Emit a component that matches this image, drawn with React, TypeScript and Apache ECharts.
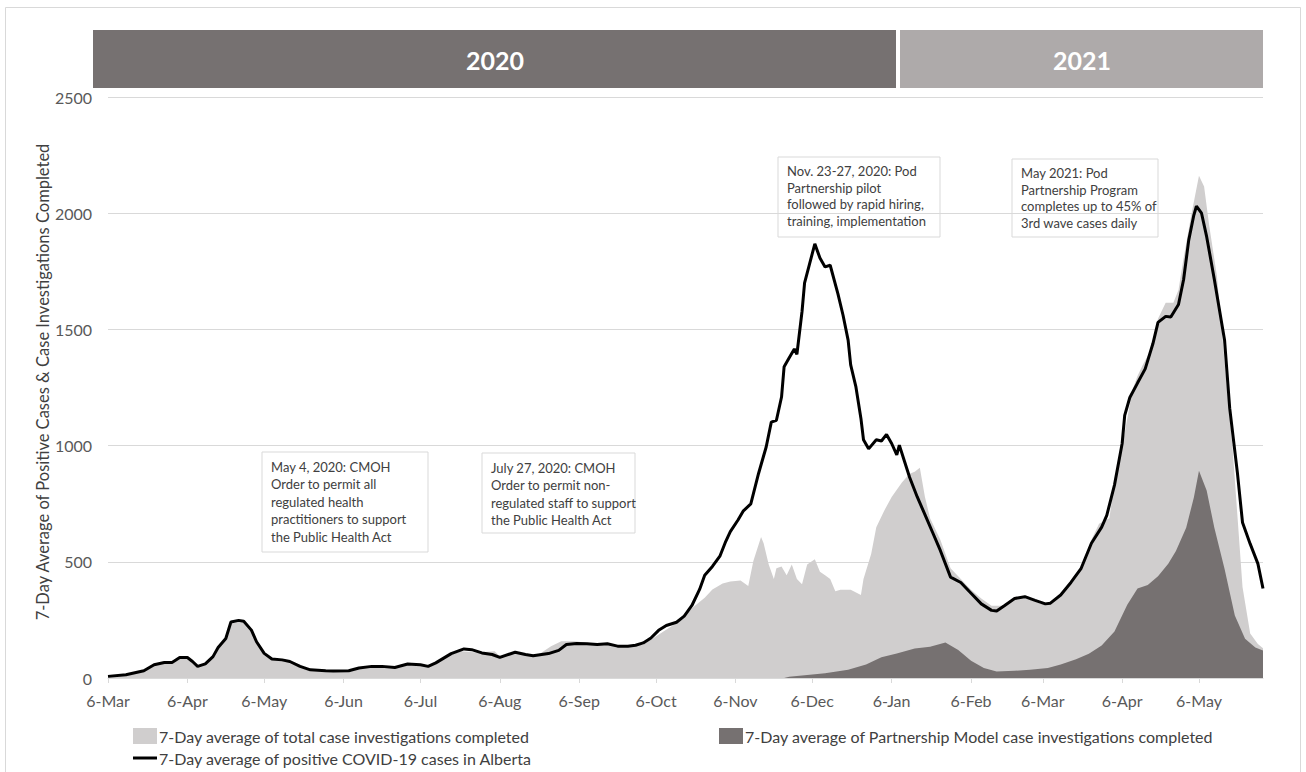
import React, { useEffect, useRef } from 'react';
import * as echarts from 'echarts';

// x values are day offsets counted from 6 March 2020
const tickDays = [0, 31, 61, 92, 122, 153, 184, 214, 245, 275, 306, 337, 365, 396, 426];
const tickLabels = ['6-Mar', '6-Apr', '6-May', '6-Jun', '6-Jul', '6-Aug', '6-Sep', '6-Oct', '6-Nov', '6-Dec', '6-Jan', '6-Feb', '6-Mar', '6-Apr', '6-May'];
const yearLabels = ['2020', '2021'];
const seriesNames = [
  '7-Day average of total case investigations completed',
  '7-Day average of Partnership Model case investigations completed',
  '7-Day average of positive COVID-19 cases in Alberta',
];
const yAxisTitle = '7-Day Average of Positive Cases & Case Investigations Completed';

const totalInvestigations: [number, number][] = [
  [0, 7], [7, 14], [14, 31], [18, 57], [22, 67], [25, 67], [28, 88], [31, 88], [33, 71], [35, 50], [38, 61], [41, 92], [43, 131],
  [46, 170], [48, 241], [51, 248], [53, 244], [56, 206], [58, 156], [61, 106], [64, 82], [68, 78], [71, 71], [75, 50], [79, 35],
  [85, 31], [88, 30], [94, 31], [98, 43], [103, 50], [107, 50], [112, 45], [117, 60], [122, 57], [126, 55], [131, 90], [138, 115],
  [144, 110], [151, 115], [153, 93], [161, 105], [168, 100], [173, 137], [177, 158], [182, 158], [188, 151], [196, 144], [203, 137],
  [209, 144], [216, 194], [222, 237], [228, 300], [233, 345], [236, 381], [240, 407], [243, 415], [247, 419], [250, 396], [252, 503],
  [255, 607], [256, 580], [258, 488], [260, 426], [261, 472], [263, 480], [265, 442], [267, 488], [269, 426], [271, 403], [273, 488],
  [276, 511], [278, 457], [280, 442], [282, 426], [284, 373], [286, 380], [290, 380], [294, 357], [295, 426], [298, 534], [300, 649],
  [303, 718], [306, 779], [310, 841], [313, 879], [315, 887], [317, 905], [319, 779], [321, 687], [325, 595], [329, 472], [333, 426],
  [337, 380], [341, 342], [345, 311], [349, 311], [354, 342], [359, 342], [364, 319], [370, 334], [375, 396], [380, 472], [384, 595],
  [387, 664], [391, 687], [393, 841], [397, 1055], [400, 1239], [402, 1300], [404, 1346], [407, 1407], [410, 1546], [413, 1615],
  [416, 1615], [418, 1669], [420, 1807], [423, 1992], [426, 2161], [428, 2115], [430, 1946], [433, 1730], [436, 1361], [439, 1007],
  [441, 700], [443, 392], [446, 192], [449, 146], [451, 128],
];

const partnershipInvestigations: [number, number][] = [
  [264, 0], [266, 5], [280, 20], [289, 35], [296, 58], [302, 89], [308, 105], [315, 127], [321, 135], [327, 153], [332, 120],
  [337, 74], [342, 43], [347, 28], [354, 31], [360, 35], [367, 43], [372, 58], [378, 81], [383, 104], [388, 140], [393, 200],
  [398, 315], [402, 385], [406, 400], [410, 438], [414, 492], [417, 546], [421, 646], [424, 777], [426, 892], [429, 807],
  [432, 646], [436, 469], [440, 269], [444, 169], [448, 131], [451, 118],
];

const positiveCases: [number, number][] = [
  [0, 7], [7, 14], [14, 31], [18, 57], [22, 67], [25, 67], [28, 88], [31, 88], [33, 71], [35, 50], [38, 61], [41, 92], [43, 131],
  [46, 170], [48, 241], [51, 248], [53, 244], [56, 206], [58, 156], [61, 106], [64, 82], [68, 78], [71, 71], [75, 50], [79, 35],
  [85, 31], [88, 30], [94, 31], [98, 43], [103, 50], [107, 50], [112, 45], [117, 60], [122, 57], [125, 50], [128, 65], [134, 105],
  [139, 125], [142, 122], [146, 108], [150, 101], [153, 89], [159, 111], [163, 101], [166, 96], [172, 105], [176, 119], [179, 144],
  [183, 148], [187, 147], [191, 144], [195, 147], [199, 137], [203, 137], [206, 141], [209, 151], [212, 172], [215, 205], [218, 226],
  [222, 240], [225, 266], [228, 312], [231, 381], [233, 442], [236, 480], [239, 526], [241, 582], [243, 630], [246, 680], [248, 718],
  [251, 749], [254, 879], [257, 994], [259, 1101], [261, 1109], [263, 1209], [264, 1339], [266, 1378], [268, 1416], [269, 1393],
  [271, 1577], [272, 1700], [274, 1784], [276, 1868], [278, 1807], [280, 1769], [282, 1776], [285, 1654], [287, 1562], [289, 1454],
  [290, 1347], [292, 1255], [294, 1117], [295, 1025], [297, 986], [300, 1025], [302, 1020], [304, 1048], [306, 1009], [308, 960],
  [309, 1002], [311, 933], [313, 864], [316, 779], [319, 703], [322, 626], [325, 549], [329, 434], [333, 411], [337, 365], [341, 319],
  [345, 291], [347, 288], [350, 311], [354, 342], [358, 350], [362, 334], [366, 319], [368, 322], [372, 357], [376, 411], [380, 472],
  [384, 580], [388, 649], [390, 700], [393, 830], [396, 1009], [397, 1130], [399, 1207], [402, 1269], [405, 1330], [408, 1438],
  [410, 1530], [413, 1556], [415, 1553], [418, 1607], [420, 1715], [422, 1884], [424, 1992], [425, 2030], [427, 2000], [429, 1899],
  [432, 1715], [436, 1453], [438, 1161], [441, 884], [443, 669], [446, 577], [449, 492], [451, 385],
];

const noteMay2020 = ['May 4, 2020: CMOH', 'Order to permit all', 'regulated health', 'practitioners to support', 'the Public Health Act'];
const noteJuly2020 = ['July 27, 2020: CMOH', 'Order to permit non-', 'regulated staff to support', 'the Public Health Act'];
const noteNov2020 = ['Nov. 23-27, 2020: Pod', 'Partnership pilot', 'followed by rapid hiring,', 'training, implementation'];
const noteMay2021 = ['May 2021: Pod', 'Partnership Program', 'completes up to 45% of', '3rd wave cases daily'];

const FONT = 'Lato, "Open Sans", sans-serif';

function noteBox(lines: string[], x: number, y: number, w: number, h: number, fs: number, lh: number) {
  return {
    type: 'group',
    z: 100,
    children: [
      { type: 'rect', shape: { x, y, width: w, height: h }, style: { fill: '#ffffff', stroke: '#d9d9d9', lineWidth: 1 } },
      {
        type: 'text',
        x: x + 9,
        y: y + 6,
        style: { text: lines.join('\n'), fill: '#404040', font: `${fs}px ${FONT}`, lineHeight: lh, verticalAlign: 'top', align: 'left' },
      },
    ],
  };
}

const legendText = { color: '#404040', fontSize: 16, fontFamily: FONT, padding: [0, 0, 0, -3] };

export default function App() {
  const ref = useRef<HTMLDivElement>(null);
  useEffect(() => {
    const chart = echarts.init(ref.current!, null, { renderer: 'svg' });
    const option: any = {
      animation: false,
      backgroundColor: '#ffffff',
      grid: { left: 108, right: 43, top: 97, bottom: 94 },
      xAxis: {
        type: 'value',
        min: 0,
        max: 451,
        splitLine: { show: false },
        axisLine: { show: true, lineStyle: { color: '#d9d9d9', width: 1 } },
        axisTick: { show: true, customValues: tickDays, length: 5, lineStyle: { color: '#d9d9d9' } },
        axisLabel: {
          customValues: tickDays,
          formatter: (v: number) => {
            const i = tickDays.indexOf(Math.round(v));
            return i >= 0 ? tickLabels[i] : '';
          },
          color: '#595959',
          fontSize: 16,
          fontFamily: FONT,
          margin: 14,
        },
      },
      yAxis: {
        type: 'value',
        min: 0,
        max: 2500,
        interval: 500,
        axisLine: { show: false },
        axisTick: { show: false },
        axisLabel: { color: '#595959', fontSize: 16, fontFamily: FONT, margin: 16, formatter: (v: number) => String(v) },
        splitLine: { lineStyle: { color: '#d9d9d9', width: 1 } },
      },
      legend: [
        { data: [seriesNames[0]], left: 128, top: 723, icon: 'rect', itemWidth: 24, itemHeight: 16, itemGap: 0, textStyle: legendText },
        { data: [seriesNames[1]], left: 714, top: 723, icon: 'rect', itemWidth: 24, itemHeight: 16, itemGap: 0, textStyle: legendText },
        { data: [seriesNames[2]], left: 128, top: 745, icon: 'rect', itemWidth: 24, itemHeight: 3, itemGap: 0, textStyle: legendText },
      ],
      series: [
        {
          name: seriesNames[0],
          type: 'line',
          data: totalInvestigations,
          symbol: 'none',
          lineStyle: { width: 0 },
          itemStyle: { color: '#d0cece' },
          areaStyle: { color: '#d0cece', opacity: 1 },
          z: 1,
        },
        {
          name: seriesNames[1],
          type: 'line',
          data: partnershipInvestigations,
          symbol: 'none',
          lineStyle: { width: 0 },
          itemStyle: { color: '#767171' },
          areaStyle: { color: '#767171', opacity: 1 },
          z: 2,
        },
        {
          name: seriesNames[2],
          type: 'line',
          data: positiveCases,
          symbol: 'none',
          lineStyle: { width: 3, color: '#000000' },
          itemStyle: { color: '#000000' },
          z: 3,
        },
      ],
      graphic: [
        { type: 'rect', silent: true, z: -10, shape: { x: 5.5, y: 7.5, width: 1295, height: 790 }, style: { fill: 'none', stroke: '#d9d9d9', lineWidth: 1 } },
        { type: 'rect', z: 50, shape: { x: 93, y: 30, width: 803, height: 58 }, style: { fill: '#767171' } },
        { type: 'rect', z: 50, shape: { x: 900, y: 30, width: 363, height: 58 }, style: { fill: '#aeaaaa' } },
        { type: 'text', z: 51, x: 495, y: 60, style: { text: yearLabels[0], fill: '#ffffff', font: `bold 25px ${FONT}`, align: 'center', verticalAlign: 'middle' } },
        { type: 'text', z: 51, x: 1082, y: 60, style: { text: yearLabels[1], fill: '#ffffff', font: `bold 25px ${FONT}`, align: 'center', verticalAlign: 'middle' } },
        {
          type: 'text', z: 51, x: 43, y: 382, rotation: Math.PI / 2,
          style: { text: yAxisTitle, fill: '#404040', font: `16.5px ${FONT}`, align: 'center', verticalAlign: 'middle' },
        },
        noteBox(noteMay2020, 262, 452, 166, 100, 13, 17.5),
        noteBox(noteJuly2020, 482, 453, 153, 80, 13, 17.5),
        noteBox(noteNov2020, 778, 157, 162, 80, 13, 16.5),
        noteBox(noteMay2021, 1012, 159, 146, 78, 13, 16.5),
      ],
    };
    chart.setOption(option);
    return () => chart.dispose();
  }, []);
  return <div ref={ref} style={{ position: 'fixed', left: 0, top: 0, width: 1306, height: 772, background: '#fff' }} />;
}
